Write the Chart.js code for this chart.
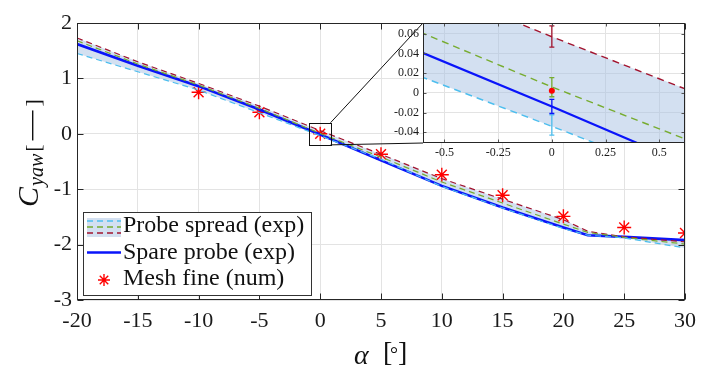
<!DOCTYPE html>
<html lang="en">
<head>
<meta charset="UTF-8">
<title>Yaw coefficient vs. angle of attack</title>
<script src="https://cdn.jsdelivr.net/npm/chart.js"></script>
<style>
  html, body { margin: 0; padding: 0; background: #fff; overflow: hidden; }
  #wrap { position: relative; width: 711px; height: 368px; }
  #mainChart { position: absolute; left: 0; top: 0; }
  #insetChart { position: absolute; left: 380px; top: 10px; }
</style>
</head>
<body>
<div id="wrap">
  <canvas id="mainChart" width="711" height="368"></canvas>
  <canvas id="insetChart" width="310" height="160"></canvas>
</div>
<script>
// angle of attack [deg]
const alpha = [-20, -15, -10, -5, 0, 5, 10, 15, 20, 22, 25, 30];
// probe spread (exp): lowest, middle and highest probe
const probeLow  = [1.45, 1.12, 0.79, 0.38, -0.034, -0.46, -0.95, -1.34, -1.71, -1.83, -1.88, -2.06];
const probeMid  = [1.68, 1.26, 0.88, 0.46, 0.006, -0.42, -0.87, -1.25, -1.63, -1.78, -1.87, -1.99];
const probeHigh = [1.73, 1.30, 0.91, 0.50, 0.057, -0.37, -0.81, -1.18, -1.55, -1.76, -1.86, -1.95];
// spare probe (exp)
const spareProbe = [1.62, 1.23, 0.86, 0.44, -0.014, -0.48, -0.94, -1.33, -1.69, -1.83, -1.86, -1.92];
// fine mesh (num)
const meshAlpha = [-10, -5, 0, 5, 10, 15, 20, 25, 30];
const meshFine  = [0.75, 0.39, 0.002, -0.37, -0.74, -1.11, -1.49, -1.69, -1.79];
// repeat scatter at alpha = 0: low, mid, high, spare
const errLow  = [-0.043, -0.004, 0.0465, -0.021];
const errHigh = [-0.0225, 0.0155, 0.068, -0.0067];

const xTicksInset = [-0.5, -0.25, 0, 0.25, 0.5];
const yTicksInset = [-0.04, -0.02, 0, 0.02, 0.04, 0.06];
// zoomed region around the origin [alpha_min, alpha_max, c_min, c_max]
const zoomBox = [-0.95, 0.85, -0.2, 0.2];

const C_LOW = '#4dbeee', C_MID = '#77ac30', C_HIGH = '#a2142f', C_SPARE = '#0a14fa';
const C_FILL = 'rgba(168, 194, 228, 0.5)';
const SERIF = 'Liberation Serif';

Chart.defaults.font.family = SERIF;
Chart.defaults.color = '#1a1a1a';

const xy = (xs, ys) => xs.map((x, i) => ({ x: x, y: ys[i] }));

function makeDatasets(inset) {
  const dash = inset ? [7, 5] : [6, 4];
  const dw = inset ? 1.4 : 1.2;
  return [
    { data: xy(alpha, probeLow), borderColor: C_LOW, borderWidth: dw, borderDash: dash, pointRadius: 0, fill: false },
    { data: xy(alpha, probeMid), borderColor: C_MID, borderWidth: dw, borderDash: dash, pointRadius: 0, fill: false },
    { data: xy(alpha, probeHigh), borderColor: C_HIGH, borderWidth: dw, borderDash: dash, pointRadius: 0,
      fill: { target: 0 }, backgroundColor: C_FILL },
    { data: xy(alpha, spareProbe), borderColor: C_SPARE, borderWidth: inset ? 2.2 : 2.6, pointRadius: 0, fill: false },
    { data: xy(meshAlpha, meshFine), showLine: false,
      pointStyle: inset ? 'circle' : 'star', pointRadius: inset ? 3 : 7,
      borderColor: '#ff0000', backgroundColor: '#ff0000', borderWidth: inset ? 0 : 1.4 }
  ];
}

// black axes box with inward tick marks on all four sides
function drawFrame(chart, len, tickColor) {
  const { ctx, chartArea: a, scales: { x, y } } = chart;
  const L = Math.round(a.left) + 0.5, R = Math.round(a.right) - 0.5;
  const T = Math.round(a.top) + 0.5, B = Math.round(a.bottom) - 0.5;
  ctx.save();
  ctx.lineWidth = 1;
  ctx.strokeStyle = tickColor;
  ctx.beginPath();
  x.ticks.forEach(t => {
    const p = Math.round(x.getPixelForValue(t.value)) + 0.5;
    ctx.moveTo(p, T); ctx.lineTo(p, T + len);
    ctx.moveTo(p, B); ctx.lineTo(p, B - len);
  });
  y.ticks.forEach(t => {
    const p = Math.round(y.getPixelForValue(t.value)) + 0.5;
    ctx.moveTo(L, p); ctx.lineTo(L + len, p);
    ctx.moveTo(R, p); ctx.lineTo(R - len, p);
  });
  ctx.stroke();
  ctx.strokeStyle = '#262626';
  ctx.strokeRect(L, T, R - L, B - T);
  ctx.restore();
}

// ---------- inset ----------
const insetCanvas = document.getElementById('insetChart');

const insetPlugin = {
  id: 'insetDecor',
  beforeDraw(chart) {
    const { ctx, chartArea: a } = chart;
    ctx.save();
    ctx.fillStyle = '#fff';
    ctx.fillRect(a.left, a.top, a.right - a.left, a.bottom - a.top);
    ctx.restore();
  },
  beforeDatasetsDraw(chart) {
    const { ctx, chartArea: a, scales: { x, y } } = chart;
    const colors = [C_LOW, C_MID, C_HIGH, C_SPARE];
    const px = x.getPixelForValue(0);
    ctx.save();
    ctx.beginPath();
    ctx.rect(a.left, a.top, a.right - a.left, a.bottom - a.top);
    ctx.clip();
    ctx.lineWidth = 1.3;
    colors.forEach((c, i) => {
      const y0 = y.getPixelForValue(errLow[i]), y1 = y.getPixelForValue(errHigh[i]);
      ctx.strokeStyle = c;
      ctx.beginPath();
      ctx.moveTo(px, y0); ctx.lineTo(px, y1);
      ctx.moveTo(px - 2.5, y0); ctx.lineTo(px + 2.5, y0);
      ctx.moveTo(px - 2.5, y1); ctx.lineTo(px + 2.5, y1);
      ctx.stroke();
    });
    ctx.restore();
  },
  afterDraw(chart) {
    drawFrame(chart, 3, '#555');
  }
};

const insetChart = new Chart(insetCanvas, {
  type: 'line',
  data: { datasets: makeDatasets(true) },
  options: {
    responsive: false,
    animation: false,
    devicePixelRatio: 1,
    layout: { padding: { top: 13, right: 5, left: 0, bottom: 0 } },
    plugins: { legend: { display: false }, tooltip: { enabled: false }, filler: { drawTime: 'beforeDatasetsDraw' } },
    scales: {
      x: {
        type: 'linear', min: -0.6, max: 0.62,
        afterBuildTicks: s => { s.ticks = xTicksInset.map(v => ({ value: v })); },
        afterFit: s => { s.height = 27; },
        ticks: { font: { family: SERIF, size: 12 }, padding: 3, maxRotation: 0, callback: v => String(v) },
        grid: { color: '#e3e3e3', drawTicks: false },
        border: { display: false }
      },
      y: {
        type: 'linear', min: -0.051, max: 0.071,
        afterBuildTicks: s => { s.ticks = yTicksInset.map(v => ({ value: v })); },
        afterFit: s => { s.width = 43; },
        ticks: { font: { family: SERIF, size: 12 }, padding: 4, callback: v => (Math.abs(v) < 1e-9 ? '0' : v.toFixed(2)) },
        grid: { color: '#e3e3e3', drawTicks: false },
        border: { display: false }
      }
    }
  },
  plugins: [insetPlugin]
});

// ---------- main chart ----------
function drawStar(ctx, cx, cy, r) {
  ctx.beginPath();
  for (let k = 0; k < 4; k++) {
    const ang = k * Math.PI / 4;
    ctx.moveTo(cx - r * Math.cos(ang), cy - r * Math.sin(ang));
    ctx.lineTo(cx + r * Math.cos(ang), cy + r * Math.sin(ang));
  }
  ctx.stroke();
}

function drawLegend(ctx) {
  ctx.save();
  ctx.fillStyle = '#fff';
  ctx.fillRect(83, 212, 228, 83);
  ctx.strokeStyle = '#333';
  ctx.lineWidth = 1;
  ctx.strokeRect(83.5, 212.5, 228, 83);

  // probe spread icon: band with three dashed lines
  ctx.fillStyle = C_FILL;
  ctx.fillRect(87, 218, 34, 19);
  ctx.lineWidth = 1.4;
  ctx.setLineDash([6, 4]);
  [[C_LOW, 221], [C_MID, 227], [C_HIGH, 233]].forEach(([c, yy]) => {
    ctx.strokeStyle = c;
    ctx.beginPath(); ctx.moveTo(87, yy); ctx.lineTo(121, yy); ctx.stroke();
  });
  ctx.setLineDash([]);
  // spare probe icon
  ctx.strokeStyle = C_SPARE;
  ctx.lineWidth = 2.6;
  ctx.beginPath(); ctx.moveTo(87, 252.5); ctx.lineTo(121, 252.5); ctx.stroke();
  // mesh icon
  ctx.strokeStyle = '#ff0000';
  ctx.lineWidth = 1.4;
  drawStar(ctx, 104, 280, 6);

  ctx.fillStyle = '#111';
  ctx.font = "24px 'Liberation Serif', serif";
  ctx.textBaseline = 'alphabetic';
  ctx.fillText('Probe spread (exp)', 123, 232);
  ctx.fillText('Spare probe (exp)', 123, 258.5);
  ctx.fillText('Mesh fine (num)', 123, 285);
  ctx.restore();
}

function drawAxisTitles(ctx) {
  ctx.save();
  ctx.fillStyle = '#111';
  ctx.textBaseline = 'alphabetic';
  // x title: alpha [deg]
  ctx.font = "italic 28px 'Liberation Serif', serif";
  ctx.fillText('\u03B1', 354, 364);
  ctx.font = "28px 'Liberation Serif', serif";
  ctx.fillText('[', 383, 361);
  ctx.font = "20px 'Liberation Serif', serif";
  ctx.fillText('\u00B0', 390, 361);
  ctx.font = "28px 'Liberation Serif', serif";
  ctx.fillText(']', 398, 361);

  // y title: C_yaw [-]
  ctx.translate(38, 207);
  ctx.rotate(-Math.PI / 2);
  let pos = 0;
  ctx.font = "italic 30px 'Liberation Serif', serif";
  ctx.fillText('C', pos, 0);
  pos += ctx.measureText('C').width + 1;
  ctx.font = "italic 20px 'Liberation Serif', serif";
  ctx.fillText('yaw', pos, 5);
  pos += ctx.measureText('yaw').width + 2;
  ctx.font = "22px 'Liberation Serif', serif";
  ctx.fillText('[', pos, 2);
  pos += ctx.measureText('[').width + 4;
  ctx.fillRect(pos, -6, 30, 1.4);
  pos += 34;
  ctx.fillText(']', pos, 2);
  ctx.restore();
}

const mainPlugin = {
  id: 'mainDecor',
  afterDatasetsDraw(chart) {
    const { ctx, scales: { x, y } } = chart;
    const x0 = x.getPixelForValue(zoomBox[0]), x1 = x.getPixelForValue(zoomBox[1]);
    const y0 = y.getPixelForValue(zoomBox[3]), y1 = y.getPixelForValue(zoomBox[2]);
    const ia = insetChart.chartArea;
    const ix = insetCanvas.offsetLeft + ia.left, iyT = insetCanvas.offsetTop + ia.top;
    const iyB = insetCanvas.offsetTop + ia.bottom;
    ctx.save();
    ctx.strokeStyle = '#111';
    ctx.lineWidth = 1;
    ctx.strokeRect(Math.round(x0) + 0.5, Math.round(y0) + 0.5, Math.round(x1 - x0), Math.round(y1 - y0));
    ctx.beginPath();
    ctx.moveTo(x1, y0); ctx.lineTo(ix, iyT);
    ctx.moveTo(x1, y1); ctx.lineTo(ix, iyB);
    ctx.stroke();
    ctx.restore();
  },
  afterDraw(chart) {
    drawFrame(chart, 6, '#262626');
    drawLegend(chart.ctx);
    drawAxisTitles(chart.ctx);
  }
};

new Chart(document.getElementById('mainChart'), {
  type: 'line',
  data: { datasets: makeDatasets(false) },
  options: {
    responsive: false,
    animation: false,
    devicePixelRatio: 1,
    layout: { padding: { top: 23, right: 26, left: 0, bottom: 0 } },
    plugins: { legend: { display: false }, tooltip: { enabled: false }, filler: { drawTime: 'beforeDatasetsDraw' } },
    scales: {
      x: {
        type: 'linear', min: -20, max: 30,
        afterFit: s => { s.height = 68; },
        ticks: { stepSize: 5, font: { family: SERIF, size: 22 }, padding: 8, maxRotation: 0 },
        grid: { color: '#e3e3e3', drawTicks: false },
        border: { display: false }
      },
      y: {
        type: 'linear', min: -3, max: 2,
        afterFit: s => { s.width = 77; },
        ticks: { stepSize: 1, font: { family: SERIF, size: 22 }, padding: 5 },
        grid: { color: '#e3e3e3', drawTicks: false },
        border: { display: false }
      }
    }
  },
  plugins: [mainPlugin]
});
</script>
</body>
</html>
